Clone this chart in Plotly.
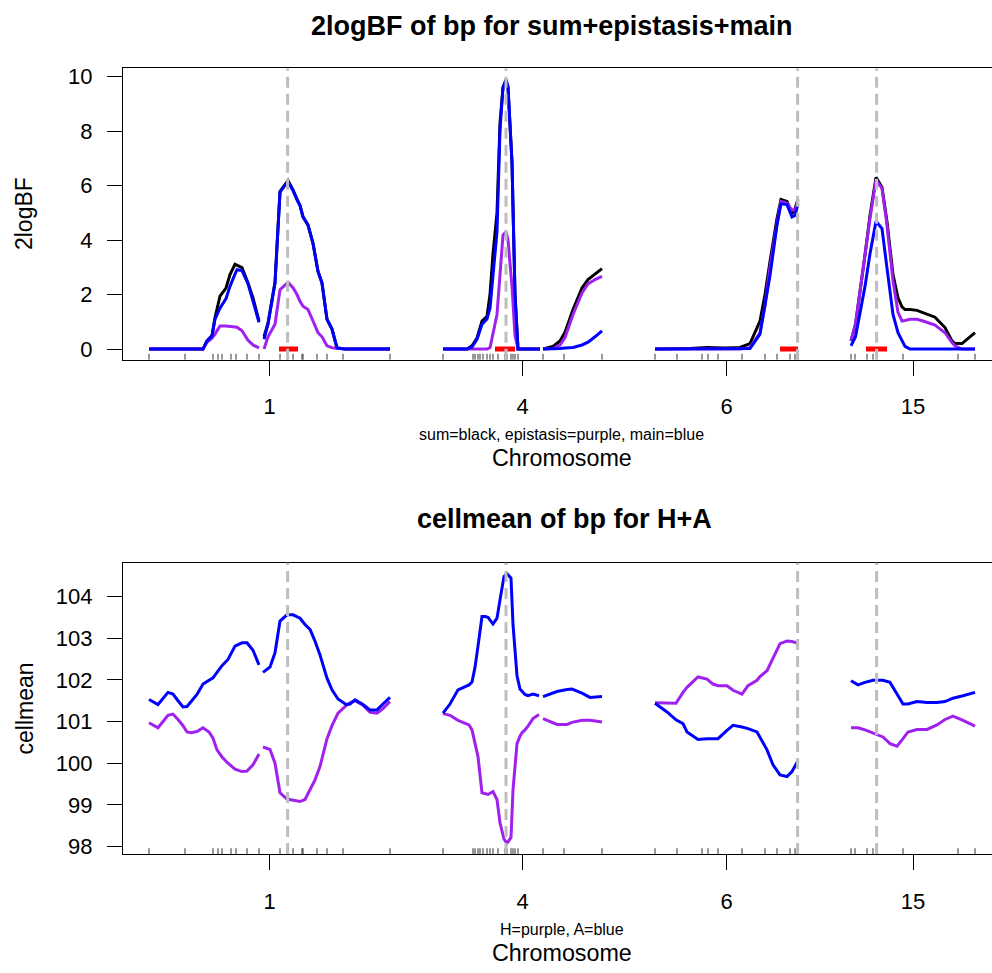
import plotly.graph_objects as go

# ---------------- data ----------------
chrom_names = ["1", "4", "6", "15"]
chrom_lengths = [120.5, 79.5, 71.5, 62.0]   # cM
chrom_gap = 26.5                            # cM between chromosomes

# 2logBF panel (positions in cM within chromosome; None = break in curve)
chr1_bf_pos = [0, 18, 27, 29, 31.5, 33, 35.5, 38.5, 40.5, 43, 44, 46.5, 49.5, 52, 55, 56.2,
               57.5, 59.5, 63, 65.5, 69.5, 72, 74, 75.5, 77, 79.5, 82, 84.5, 86.5, 89, 91.5, 94, 98, 120.5]
chr1_bf_sum = [0, 0, 0, 0.3, 0.5, 1.15, 1.94, 2.24, 2.73, 3.11, 3.08, 2.99, 2.42, 1.88, 1.03, None,
               0.45, 0.95, 2.45, 5.78, 6.18, 5.84, 5.5, 5.27, 4.85, 4.55, 3.88, 2.85, 2.42, 1.09, 0.73, 0.04, 0, 0]
chr1_bf_epi = [0, 0, 0, 0.25, 0.4, 0.55, 0.85, 0.85, 0.84, 0.83, 0.8, 0.67, 0.32, 0.15, 0.04, None,
               0.0, 0.45, 0.91, 2.18, 2.45, 2.25, 2.0, 1.75, 1.57, 1.45, 1.03, 0.6, 0.45, 0.12, 0.05, 0.03, 0, 0]
chr1_bf_main = [0, 0, 0, 0.3, 0.48, 1.1, 1.5, 1.85, 2.3, 2.75, 2.91, 2.88, 2.40, 1.76, 0.98, None,
                0.36, 0.91, 2.42, 5.76, 6.16, 5.82, 5.48, 5.27, 4.85, 4.55, 3.88, 2.85, 2.42, 1.09, 0.73, 0.04, 0, 0]

chr4_bf_pos = [0, 12, 14.5, 17, 19.5, 22, 23.5, 25, 27, 28.5, 30, 31.5, 32.5, 34.5, 36, 37.5, 48.5, 49.2,
               50, 55, 58.5, 61, 65, 69.5, 72.5, 76, 79.5]
chr4_bf_sum = [0, 0, 0.12, 0.4, 1.03, 1.2, 2.0, 3.5, 5.0, 8.3, 9.6, 9.85, 9.6, 6.85, 2.0, 0, 0, None,
               0, 0.1, 0.3, 0.62, 1.45, 2.24, 2.55, 2.76, 2.95]
chr4_bf_epi = [0, 0, 0, 0, 0, 0, 0.05, 0.55, 1.27, 2.73, 4.18, 4.3, 4.0, 2.3, 0.5, 0, 0, None,
               0, 0.02, 0.15, 0.42, 1.27, 2.06, 2.39, 2.55, 2.67]
chr4_bf_main = [0, 0, 0.08, 0.36, 0.91, 1.1, 1.5, 2.8, 4.3, 8.06, 9.6, 9.9, 9.64, 6.85, 2.0, 0, 0, None,
                0, 0, 0.02, 0.04, 0.06, 0.15, 0.25, 0.45, 0.67]

chr6_bf_pos = [0, 17.5, 26, 35, 42.5, 47.5, 52.5, 55, 57.5, 61, 63, 66, 68.5, 70, 71.5]
chr6_bf_sum = [0, 0.02, 0.06, 0.04, 0.06, 0.2, 1.03, 2.0, 3.21, 4.79, 5.49, 5.42, 4.97, 5.15, 5.5]
chr6_bf_epi = [0, 0, 0, 0, 0, 0.05, 0.6, 1.6, 3.0, 4.6, 5.42, 5.35, 5.1, 5.1, 5.42]
chr6_bf_main = [0, 0, 0, 0, 0, 0.02, 0.55, 1.6, 2.7, 4.55, 5.33, 5.3, 4.85, 4.9, 5.33]

chr15_bf_pos = [0, 2.25, 7, 9.5, 12.5, 15.5, 18, 21, 23.5, 25.5, 27, 29.5, 33, 36, 42, 47, 50.5, 52, 55.5, 62]
chr15_bf_sum = [0.3, 0.91, 3.45, 4.9, 6.3, 5.94, 4.67, 2.73, 1.88, 1.55, 1.45, 1.45, 1.42, 1.33, 1.17, 0.79, 0.3, 0.2, 0.2, 0.6]
chr15_bf_epi = [0.3, 0.91, 3.45, 4.8, 6.2, 5.9, 4.55, 2.5, 1.35, 1.03, 1.05, 1.09, 1.09, 1.03, 0.88, 0.6, 0.24, 0.12, 0.0, 0.0]
chr15_bf_main = [0.12, 0.45, 2.3, 3.5, 4.69, 4.42, 2.97, 1.27, 0.6, 0.3, 0.1, 0, 0, 0, 0, 0, 0, 0, 0, 0]

# QTL intervals (red) and QTL positions (dashed), cM within chromosome
qtl_lo = [65.0, 26.0, 62.5, 7.5]
qtl_hi = [74.5, 36.0, 71.5, 18.0]
qtl_pos = [69.3, 31.5, 71.3, 12.8]

# marker positions (rug), cM within chromosome
chr1_markers = [0, 18, 32, 34.5, 36.5, 41, 43.5, 49, 55, 65.5, 69.3, 72, 76.5, 77, 84, 89, 97, 120.5]
chr4_markers = [0, 15, 16, 17.5, 18.5, 20, 22, 23.5, 25, 27.5, 31, 32, 34, 35, 36, 37.5, 50, 60.5, 79.5]
chr6_markers = [0, 11, 23.5, 26.5, 31.5, 43.5, 55, 61, 67.5, 70, 71.5]
chr15_markers = [0, 2, 8, 11, 26, 53.5, 62]

# cellmean panel
chr1_cm_pos = [0, 4.5, 9.5, 12, 14.5, 17, 19, 21, 24, 27, 30, 32, 34, 36.5, 39.5, 43, 46.5, 49, 52, 55, 56.0,
               57, 60.5, 63, 65.5, 69, 72, 75.5, 78, 80.5, 83, 85.5, 89, 91.5, 94.5, 98.5, 100.5, 103, 107, 110.5, 114, 117, 120.5]
chr1_cm_H = [100.97, 100.85, 101.15, 101.18, 101.05, 100.9, 100.75, 100.73, 100.76, 100.85, 100.75, 100.6, 100.32, 100.15,
             100.0, 99.86, 99.80, 99.81, 99.96, 100.22, None,
             100.39, 100.33, 100.0, 99.29, 99.14, 99.11, 99.08, 99.13, 99.36, 99.6, 99.92, 100.59, 100.9, 101.2,
             101.38, 101.45, 101.5, 101.39, 101.22, 101.2, 101.31, 101.48]
chr1_cm_A = [101.53, 101.41, 101.70, 101.66, 101.5, 101.35, 101.36, 101.48, 101.65, 101.9, 102.0, 102.05, 102.18, 102.34,
             102.49, 102.81, 102.89, 102.89, 102.71, 102.36, None,
             102.18, 102.31, 102.65, 103.41, 103.56, 103.56, 103.48, 103.33, 103.21, 102.93, 102.6, 102.04, 101.76, 101.54,
             101.41, 101.42, 101.52, 101.41, 101.28, 101.28, 101.42, 101.58]

chr4_cm_pos = [0, 3.5, 7.5, 10, 13, 14.5, 16, 17.5, 19.5, 21, 22.5, 25, 27, 28.5, 30.5, 32, 34, 35, 37, 38.5, 39.5,
               41, 42.5, 45, 48, 49.0, 50, 57, 62, 64.5, 69.5, 73.5, 79.5]
chr4_cm_H = [101.19, 101.15, 101.03, 100.98, 100.92, 100.8, 100.5, 100.16, 99.29, 99.27, 99.25, 99.32, 99.13, 98.57,
             98.18, 98.08, 98.22, 99.36, 100.47, 100.65, 100.73, 100.8, 100.89, 101.07, 101.17, None,
             101.07, 100.93, 100.93, 100.98, 101.03, 101.03, 100.99]
chr4_cm_A = [101.20, 101.42, 101.76, 101.82, 101.88, 101.95, 102.30, 102.81, 103.52, 103.52, 103.50, 103.34, 103.48,
             103.92, 104.48, 104.55, 104.44, 103.33, 102.10, 101.78, 101.72, 101.65, 101.62, 101.66, 101.62, None,
             101.60, 101.72, 101.77, 101.78, 101.68, 101.58, 101.60]

chr6_cm_pos = [0, 6, 10.5, 14, 16, 21.5, 26, 29, 31.5, 36, 39, 43.5, 46.5, 51, 52.5, 56, 59, 62.5, 66, 68.5, 71.5]
chr6_cm_H = [101.45, 101.45, 101.44, 101.7, 101.82, 102.07, 102.02, 101.9, 101.86, 101.86, 101.75, 101.66, 101.86,
             101.99, 102.08, 102.22, 102.53, 102.87, 102.93, 102.92, 102.88]
chr6_cm_A = [101.44, 101.23, 101.04, 100.95, 100.75, 100.57, 100.59, 100.6, 100.59, 100.79, 100.91, 100.87, 100.83,
             100.75, 100.63, 100.32, 99.96, 99.72, 99.68, 99.80, 100.06]

chr15_cm_pos = [0, 3.5, 7, 11, 16, 19.5, 23, 26, 28.5, 33, 38, 43, 47, 51, 56, 62]
chr15_cm_H = [100.85, 100.85, 100.8, 100.72, 100.63, 100.47, 100.41, 100.59, 100.75, 100.81, 100.81, 100.92, 101.05,
              101.13, 101.03, 100.89]
chr15_cm_A = [101.98, 101.88, 101.94, 101.99, 101.99, 101.94, 101.66, 101.42, 101.42, 101.48, 101.46, 101.46, 101.48,
              101.56, 101.62, 101.70]

bf_yticks = [0, 2, 4, 6, 8, 10]
cm_yticks = [98, 99, 100, 101, 102, 103, 104]

# ---------------- helpers ----------------
offsets = []
acc = 0.0
for L in chrom_lengths:
    offsets.append(acc)
    acc += L + chrom_gap
centers = [o + L / 2 for o, L in zip(offsets, chrom_lengths)]


def concat(pos_lists, val_lists):
    xs, ys = [], []
    for off, p, v in zip(offsets, pos_lists, val_lists):
        xs += [off + q for q in p] + [None]
        ys += list(v) + [None]
    return xs, ys


FONT = "Liberation Sans, Arial, Helvetica, sans-serif"
W, H = 992, 973
L_M = 123


def px(xp):
    return (xp - L_M) / (W - L_M)


def py(yp):
    return 1 - yp / H


fig = go.Figure()

bf_pos = [chr1_bf_pos, chr4_bf_pos, chr6_bf_pos, chr15_bf_pos]
for vals, col in [([chr1_bf_sum, chr4_bf_sum, chr6_bf_sum, chr15_bf_sum], "black"),
                  ([chr1_bf_epi, chr4_bf_epi, chr6_bf_epi, chr15_bf_epi], "#A020F0"),
                  ([chr1_bf_main, chr4_bf_main, chr6_bf_main, chr15_bf_main], "#0000FF")]:
    xs, ys = concat(bf_pos, vals)
    fig.add_trace(go.Scatter(x=xs, y=ys, mode="lines", line=dict(color=col, width=3),
                             xaxis="x", yaxis="y", showlegend=False, hoverinfo="skip"))

cm_pos = [chr1_cm_pos, chr4_cm_pos, chr6_cm_pos, chr15_cm_pos]
for vals, col in [([chr1_cm_H, chr4_cm_H, chr6_cm_H, chr15_cm_H], "#A020F0"),
                  ([chr1_cm_A, chr4_cm_A, chr6_cm_A, chr15_cm_A], "#0000FF")]:
    xs, ys = concat(cm_pos, vals)
    fig.add_trace(go.Scatter(x=xs, y=ys, mode="lines", line=dict(color=col, width=3),
                             xaxis="x2", yaxis="y2", showlegend=False, hoverinfo="skip"))

# red QTL intervals on top panel
rx, ry = [], []
for off, lo, hi in zip(offsets, qtl_lo, qtl_hi):
    rx += [off + lo, off + hi, None]
    ry += [0, 0, None]
fig.add_trace(go.Scatter(x=rx, y=ry, mode="lines", line=dict(color="red", width=5),
                         xaxis="x", yaxis="y", showlegend=False, hoverinfo="skip"))

shapes = []
markers = [chr1_markers, chr4_markers, chr6_markers, chr15_markers]
for xr, yr in [("x", "y domain"), ("x2", "y2 domain")]:
    for off, mk in zip(offsets, markers):
        for m in mk:
            shapes.append(dict(type="line", xref=xr, yref=yr, x0=off + m, x1=off + m, y0=0, y1=0.02,
                               line=dict(color="#333333", width=1)))
    for off, q in zip(offsets, qtl_pos):
        shapes.append(dict(type="line", xref=xr, yref=yr, x0=off + q, x1=off + q, y0=0, y1=1,
                           line=dict(color="#BEBEBE", width=3, dash="11px,6px")))

xrange = [-13, 421.5]
axis_common = dict(showgrid=False, zeroline=False, showline=True, linecolor="black", linewidth=1.3,
                   ticks="outside", ticklen=15, tickwidth=1.3, tickcolor="black",
                   tickfont=dict(family=FONT, size=22, color="black"))

top_dom = [py(359), py(65)]
bot_dom = [py(858), py(564)]

fig.update_layout(
    width=W, height=H,
    margin=dict(l=L_M, r=0, t=0, b=0),
    paper_bgcolor="white", plot_bgcolor="white",
    xaxis=dict(domain=[0, 1], range=xrange, anchor="y", mirror=True,
               tickmode="array", tickvals=centers, ticktext=chrom_names, ticklabelstandoff=12, **axis_common),
    yaxis=dict(domain=top_dom, range=[-0.39, 10.30], anchor="x",
               tickmode="array", tickvals=bf_yticks, ticklabelstandoff=10, **axis_common),
    xaxis2=dict(domain=[0, 1], range=xrange, anchor="y2", mirror=True,
                tickmode="array", tickvals=centers, ticktext=chrom_names, ticklabelstandoff=12, **axis_common),
    yaxis2=dict(domain=bot_dom, range=[97.82, 104.81], anchor="x2",
                tickmode="array", tickvals=cm_yticks, ticklabelstandoff=10, **axis_common),
    shapes=shapes,
)

ann = [
    ("<b>2logBF of bp for sum+epistasis+main</b>", 552, 22, 27, 0),
    ("sum=black, epistasis=purple, main=blue", 561.7, 435, 16, 0),
    ("Chromosome", 561.7, 458, 23.3, 0),
    ("2logBF", 24, 212, 23, -90),
    ("<b>cellmean of bp for H+A</b>", 564, 520, 27, 0),
    ("H=purple, A=blue", 561.7, 934, 16, 0),
    ("Chromosome", 561.7, 958, 23.3, 0),
    ("cellmean", 25, 711, 23, -90),
]
for text, xp, yp, size, ang in ann:
    fig.add_annotation(text=text, x=px(xp), y=py(yp), xref="paper", yref="paper",
                       xanchor="center", yanchor="middle", showarrow=False, textangle=ang,
                       font=dict(family=FONT, size=size, color="black"))

fig.write_html("out.html", config={"displayModeBar": False},
               post_script="document.body.style.margin='0px';document.body.style.overflow='hidden';")
